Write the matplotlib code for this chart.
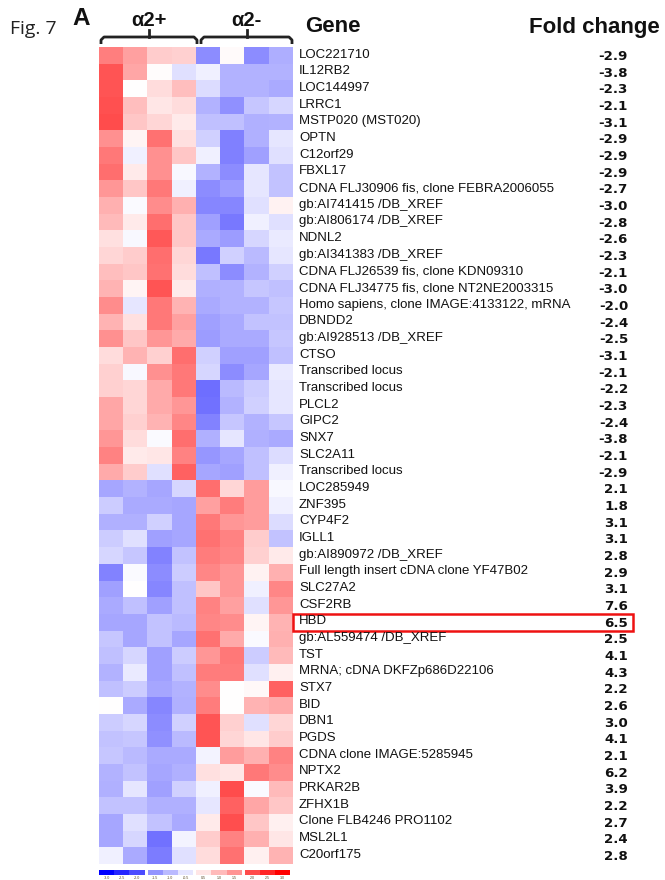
import numpy as np
import matplotlib
matplotlib.use("Agg")
import matplotlib.pyplot as plt
from matplotlib.colors import LinearSegmentedColormap
from matplotlib.transforms import blended_transform_factory
from matplotlib.patches import Rectangle

# ---------------- data ----------------
genes = [
    "LOC221710", "IL12RB2", "LOC144997", "LRRC1", "MSTP020 (MST020)", "OPTN",
    "C12orf29", "FBXL17", "CDNA FLJ30906 fis, clone FEBRA2006055",
    "gb:AI741415 /DB_XREF", "gb:AI806174 /DB_XREF", "NDNL2", "gb:AI341383 /DB_XREF",
    "CDNA FLJ26539 fis, clone KDN09310", "CDNA FLJ34775 fis, clone NT2NE2003315",
    "Homo sapiens, clone IMAGE:4133122, mRNA", "DBNDD2", "gb:AI928513 /DB_XREF",
    "CTSO", "Transcribed locus", "Transcribed locus", "PLCL2", "GIPC2", "SNX7",
    "SLC2A11", "Transcribed locus", "LOC285949", "ZNF395", "CYP4F2", "IGLL1",
    "gb:AI890972 /DB_XREF", "Full length insert cDNA clone YF47B02", "SLC27A2",
    "CSF2RB", "HBD", "gb:AL559474 /DB_XREF", "TST", "MRNA; cDNA DKFZp686D22106",
    "STX7", "BID", "DBN1", "PGDS", "CDNA clone IMAGE:5285945", "NPTX2", "PRKAR2B",
    "ZFHX1B", "Clone FLB4246 PRO1102", "MSL2L1", "C20orf175",
]
fold_change = [
    "-2.9", "-3.8", "-2.3", "-2.1", "-3.1", "-2.9", "-2.9", "-2.9", "-2.7", "-3.0",
    "-2.8", "-2.6", "-2.3", "-2.1", "-3.0", "-2.0", "-2.4", "-2.5", "-3.1", "-2.1",
    "-2.2", "-2.3", "-2.4", "-3.8", "-2.1", "-2.9", "2.1", "1.8", "3.1", "3.1",
    "2.8", "2.9", "3.1", "7.6", "6.5", "2.5", "4.1", "4.3", "2.2", "2.6", "3.0",
    "4.1", "2.1", "6.2", "3.9", "2.2", "2.7", "2.4", "2.8",
]
groups = ["\u03b12+", "\u03b12-"]
highlight_gene = "HBD"

# expression (standardised) per sample: 4 alpha2+ then 4 alpha2- columns
expr = np.array([
    [0.50, 0.37, 0.20, 0.18, -0.45, 0.02, -0.45, -0.32],
    [0.67, 0.35, 0.01, -0.12, -0.06, -0.30, -0.30, -0.30],
    [0.67, 0.00, 0.14, 0.25, -0.14, -0.30, -0.30, -0.33],
    [0.68, 0.25, 0.10, 0.14, -0.30, -0.43, -0.22, -0.16],
    [0.70, 0.22, 0.16, 0.08, -0.25, -0.25, -0.31, -0.30],
    [0.43, 0.04, 0.55, 0.12, -0.18, -0.50, -0.31, -0.10],
    [0.53, -0.06, 0.43, 0.22, -0.06, -0.50, -0.37, -0.12],
    [0.57, 0.08, 0.43, -0.03, -0.30, -0.45, -0.10, -0.24],
    [0.41, 0.22, 0.53, -0.06, -0.45, -0.39, -0.10, -0.24],
    [0.31, -0.02, 0.45, 0.31, -0.47, -0.47, -0.12, 0.05],
    [0.27, 0.08, 0.57, 0.22, -0.37, -0.53, -0.06, -0.12],
    [0.12, -0.03, 0.65, 0.22, -0.33, -0.39, -0.16, -0.08],
    [0.16, 0.20, 0.57, 0.16, -0.53, -0.18, -0.27, -0.10],
    [0.25, 0.22, 0.55, 0.14, -0.25, -0.45, -0.30, -0.18],
    [0.29, 0.04, 0.67, 0.08, -0.31, -0.30, -0.22, -0.25],
    [0.45, -0.10, 0.53, 0.29, -0.33, -0.30, -0.30, -0.22],
    [0.29, 0.12, 0.53, 0.37, -0.37, -0.33, -0.24, -0.24],
    [0.43, 0.22, 0.41, 0.33, -0.39, -0.33, -0.33, -0.22],
    [0.14, 0.29, 0.18, 0.57, -0.18, -0.37, -0.37, -0.25],
    [0.18, -0.03, 0.43, 0.53, -0.16, -0.45, -0.35, -0.08],
    [0.18, 0.16, 0.33, 0.53, -0.57, -0.27, -0.20, -0.10],
    [0.35, 0.16, 0.33, 0.41, -0.55, -0.30, -0.18, -0.10],
    [0.35, 0.18, 0.29, 0.47, -0.49, -0.22, -0.30, -0.22],
    [0.41, 0.14, -0.02, 0.57, -0.31, -0.10, -0.31, -0.33],
    [0.49, 0.08, 0.10, 0.49, -0.41, -0.35, -0.25, -0.14],
    [0.33, 0.20, -0.12, 0.61, -0.35, -0.37, -0.25, -0.06],
    [-0.35, -0.30, -0.35, -0.16, 0.57, 0.16, 0.39, -0.03],
    [-0.20, -0.33, -0.33, -0.35, 0.37, 0.51, 0.39, -0.06],
    [-0.31, -0.31, -0.18, -0.35, 0.53, 0.41, 0.39, -0.14],
    [-0.20, -0.12, -0.37, -0.35, 0.55, 0.49, 0.20, -0.24],
    [-0.16, -0.22, -0.49, -0.24, 0.51, 0.47, 0.18, 0.08],
    [-0.49, -0.02, -0.45, -0.20, 0.47, 0.41, 0.05, 0.31],
    [-0.37, 0.00, -0.47, -0.25, 0.22, 0.41, -0.06, 0.47],
    [-0.33, -0.25, -0.37, -0.25, 0.49, 0.37, -0.12, 0.41],
    [-0.35, -0.35, -0.24, -0.27, 0.47, 0.45, 0.04, 0.29],
    [-0.22, -0.35, -0.24, -0.35, 0.55, 0.33, -0.02, 0.31],
    [-0.25, -0.16, -0.37, -0.20, 0.41, 0.53, -0.20, 0.27],
    [-0.30, -0.08, -0.37, -0.25, 0.51, 0.51, -0.12, 0.06],
    [-0.25, -0.20, -0.35, -0.30, 0.45, 0.00, 0.03, 0.61],
    [0.00, -0.33, -0.47, -0.31, 0.51, 0.00, 0.29, 0.33],
    [-0.20, -0.16, -0.45, -0.18, 0.67, 0.18, -0.12, 0.16],
    [-0.24, -0.22, -0.43, -0.27, 0.67, 0.16, 0.10, 0.20],
    [-0.22, -0.27, -0.33, -0.33, -0.04, 0.39, 0.31, 0.49],
    [-0.30, -0.24, -0.35, -0.31, 0.12, 0.10, 0.53, 0.45],
    [-0.31, -0.10, -0.37, -0.18, -0.06, 0.70, -0.02, 0.27],
    [-0.24, -0.24, -0.31, -0.31, -0.10, 0.61, 0.35, 0.22],
    [-0.35, -0.12, -0.24, -0.33, 0.08, 0.69, 0.22, 0.06],
    [-0.35, -0.16, -0.55, -0.04, 0.20, 0.49, 0.31, 0.10],
    [-0.06, -0.33, -0.51, -0.12, 0.14, 0.55, 0.06, 0.29],
])

# legend key levels and labels
key_levels = [-1.0, -0.85, -0.7, -0.42, -0.27, -0.1, 0.1, 0.27, 0.42, 0.7, 0.85, 1.0]
key_labels = ["-3.0", "-2.5", "-2.0", "-1.5", "-1.0", "-0.5",
              "0.5", "1.0", "1.5", "2.0", "2.5", "3.0"]

# ---------------- figure ----------------
W, H = 665, 880
fig = plt.figure(figsize=(W / 100, H / 100), dpi=100)
fig.patch.set_facecolor("white")

def fx(px):
    return px / W

def fy(py):
    return 1 - py / H

cmap = LinearSegmentedColormap.from_list("bwr_key", [(0, 0, 1), (1, 1, 1), (1, 0, 0)])

n_rows, n_cols = expr.shape
hm_left, hm_right, hm_top, hm_bot = 99, 293, 47.3, 864
ax = fig.add_axes([fx(hm_left), fy(hm_bot), fx(hm_right - hm_left), (hm_bot - hm_top) / H])
ax.imshow(expr, cmap=cmap, vmin=-1, vmax=1, aspect="auto", interpolation="nearest",
          extent=(0, n_cols, n_rows, 0))
ax.set_xlim(0, n_cols)
ax.set_ylim(n_rows, 0)
ax.axis("off")

sans = ["Liberation Sans", "DejaVu Sans"]
tr = blended_transform_factory(fig.transFigure, ax.transData)
for i, (g, fc) in enumerate(zip(genes, fold_change)):
    ax.text(fx(299), i + 0.45, g, transform=tr, ha="left", va="center",
            fontsize=9.5, family=sans, color="#111111")
    ax.text(fx(628), i + 0.55, fc, transform=tr, ha="right", va="center",
            fontsize=9.6, family="DejaVu Sans", fontweight="bold", color="#111111")

# highlight box
hi = genes.index(highlight_gene)
ax.add_patch(Rectangle((fx(293), hi), fx(633) - fx(293), 1.05, transform=tr,
                       fill=False, edgecolor="#ee1111", linewidth=1.8, clip_on=False))

# headers
fig.text(fx(10), fy(29), "Fig. 7", family=["Open Sans", "DejaVu Sans"], fontsize=14,
         ha="left", va="center", color="#222222")
fig.text(fx(72), fy(18.5), "A", family=sans, fontsize=17.5, fontweight="bold",
         ha="left", va="center", color="#111111")
fig.text(fx(305), fy(27), "Gene", family=sans, fontsize=16, fontweight="bold",
         ha="left", va="center", color="#111111")
fig.text(fx(660), fy(27), "Fold change", family=sans, fontsize=16, fontweight="bold",
         ha="right", va="center", color="#111111")

# group labels and brackets
br_ax = fig.add_axes([0, 0, 1, 1], facecolor="none")
br_ax.set_xlim(0, W)
br_ax.set_ylim(H, 0)
br_ax.axis("off")
for label, (x0, x1) in zip(groups, [(101, 197), (201, 292)]):
    xm = (x0 + x1) / 2
    br_ax.text(xm, 20, label, family=sans, fontsize=14.5, fontweight="bold",
               ha="center", va="center", color="#111111")
    r = 3
    xs = [x0, x0, x0 + r, x1 - r, x1, x1]
    ys = [44, 37 + r, 37, 37, 37 + r, 44]
    br_ax.plot(xs, ys, color="#222222", lw=2.0, solid_joinstyle="round",
               solid_capstyle="butt")
    br_ax.plot([xm, xm], [37, 30], color="#222222", lw=2.0)

# colour key at bottom
seg_w = 15.2
gap = 3.0
x = 99
for k, (lv, lb) in enumerate(zip(key_levels, key_labels)):
    if k > 0 and k % 3 == 0:
        x += gap
    br_ax.add_patch(Rectangle((x, 870), seg_w, 5, facecolor=cmap((lv + 1) / 2),
                              edgecolor="none"))
    br_ax.text(x + seg_w / 2, 878, lb, fontsize=2.6, ha="center", va="center",
               family=sans, color="#554422")
    x += seg_w

fig.savefig("out.png", dpi=100, facecolor="white")
